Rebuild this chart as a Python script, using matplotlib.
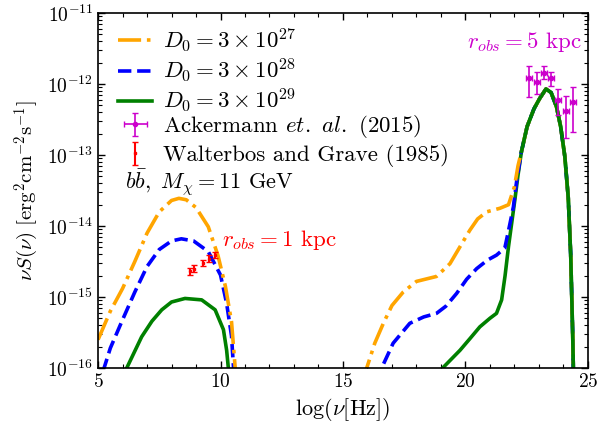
import numpy as np
import matplotlib
matplotlib.use("Agg")
import matplotlib.pyplot as plt
from matplotlib.ticker import MultipleLocator, FixedLocator, NullFormatter

plt.rcParams["font.family"] = "serif"
plt.rcParams["font.serif"] = ["cmr10", "DejaVu Serif"]
plt.rcParams["mathtext.fontset"] = "cm"
plt.rcParams["axes.formatter.use_mathtext"] = True
plt.rcParams["font.size"] = 14

# --- curves: log10(nu) vs log10(nu S(nu)) ---
x_or_lo = [5.0, 5.5, 6.0, 6.5, 7.0, 7.5, 8.0, 8.3, 8.6, 9.0, 9.5, 9.9, 10.2, 10.45, 10.6, 10.65]
y_or_lo = [-15.6, -15.2, -14.88, -14.5, -14.1, -13.8, -13.64, -13.61, -13.63, -13.74, -14.01,
           -14.42, -14.85, -15.35, -16.0, -16.4]
x_bl_lo = [5.2, 5.5, 6.0, 6.5, 7.0, 7.5, 8.0, 8.4, 8.9, 9.5, 10.0, 10.25, 10.45, 10.55]
y_bl_lo = [-16.05, -15.72, -15.32, -14.93, -14.57, -14.33, -14.21, -14.18, -14.21, -14.36,
           -14.69, -15.09, -15.55, -16.1]
x_gr_lo = [6.1, 6.17, 6.78, 7.2, 7.6, 8.0, 8.55, 9.23, 9.78, 10.12, 10.25, 10.32, 10.35]
y_gr_lo = [-16.1, -16.0, -15.56, -15.34, -15.18, -15.07, -15.02, -15.04, -15.18, -15.46,
           -15.75, -16.0, -16.2]

x_peak = [22.29, 22.52, 22.8, 23.04, 23.29, 23.5, 23.72, 23.89, 24.06, 24.2, 24.3, 24.38, 24.42]
y_peak = [-12.95, -12.60, -12.35, -12.2, -12.07, -12.12, -12.32, -12.60, -13.02, -13.6,
          -14.4, -15.5, -16.2]

x_or_hi = [15.9, 15.97, 16.3, 16.65, 17.0, 17.46, 18.0, 18.82, 19.37, 19.8, 20.18, 20.5,
           20.87, 21.41, 21.76, 22.0, 22.15] + x_peak
y_or_hi = [-16.2, -16.0, -15.65, -15.37, -15.12, -14.93, -14.78, -14.71, -14.53, -14.28,
           -14.06, -13.9, -13.80, -13.75, -13.70, -13.45, -13.15] + y_peak
x_bl_hi = [16.5, 16.58, 17.05, 17.73, 18.3, 18.82, 19.2, 19.64, 20.05, 20.46, 20.9, 21.27,
           21.61, 21.8, 21.96, 22.1] + x_peak
y_bl_hi = [-16.2, -16.0, -15.65, -15.37, -15.28, -15.23, -15.13, -14.95, -14.75, -14.60,
           -14.48, -14.41, -14.31, -14.0, -13.73, -13.35] + y_peak
x_gr_hi = [19.0, 19.07, 19.78, 20.2, 20.59, 21.0, 21.27, 21.48, 21.62, 21.76, 22.02,
           22.15] + x_peak
y_gr_hi = [-16.1, -16.0, -15.75, -15.58, -15.42, -15.3, -15.23, -15.04, -14.7, -14.29,
           -13.63, -13.28] + y_peak

# --- data points ---
ack_x = [22.59, 22.91, 23.22, 23.49, 23.79, 24.10, 24.40]
ack_y = [-11.91, -11.97, -11.84, -11.92, -12.23, -12.38, -12.26]
ack_top = [-11.746, -11.827, -11.746, -11.831, -12.075, -12.165, -12.046]
ack_bot = [-12.179, -12.145, -11.934, -12.028, -12.437, -12.761, -12.672]
ack_xerr = 0.12

wal_x = [8.76, 8.92, 9.27, 9.54, 9.78]
wal_y = [-14.64, -14.60, -14.52, -14.46, -14.41]
wal_err = 0.045

yticks = [1e-16, 1e-15, 1e-14, 1e-13, 1e-12, 1e-11]

fig = plt.figure(figsize=(5.98, 4.34), dpi=100)
ax = fig.add_axes([0.164, 0.152, 0.819, 0.818])

lw = 2.6
ax.plot(x_gr_lo, 10 ** np.array(y_gr_lo), color="green", ls="-", lw=lw)
ax.plot(x_gr_hi, 10 ** np.array(y_gr_hi), color="green", ls="-", lw=lw)
ax.plot(x_bl_lo, 10 ** np.array(y_bl_lo), color="blue", ls="--", lw=lw)
ax.plot(x_bl_hi, 10 ** np.array(y_bl_hi), color="blue", ls="--", lw=lw)
ax.plot(x_or_lo, 10 ** np.array(y_or_lo), color="orange", ls="-.", lw=lw)
ax.plot(x_or_hi, 10 ** np.array(y_or_hi), color="orange", ls="-.", lw=lw)
ax.plot(x_peak, 10 ** np.array(y_peak), color="green", ls="-", lw=lw)

# legend handles
h1, = ax.plot([], [], color="orange", ls="-.", lw=lw, label=r"$D_0 = 3\times10^{27}$")
h2, = ax.plot([], [], color="blue", ls="--", lw=lw, label=r"$D_0 = 3\times10^{28}$")
h3, = ax.plot([], [], color="green", ls="-", lw=lw, label=r"$D_0 = 3\times10^{29}$")

ay = 10 ** np.array(ack_y)
ayerr = [ay - 10 ** np.array(ack_bot), 10 ** np.array(ack_top) - ay]
h4 = ax.errorbar(ack_x, ay, yerr=ayerr, xerr=ack_xerr, fmt="o", ms=3, color="#cc00cc",
                 ecolor="#cc00cc", elinewidth=1.2, capsize=2,
                 label=r"Ackermann $et.\ al.$ (2015)")

wy = 10 ** np.array(wal_y)
wyerr = [wy - 10 ** (np.array(wal_y) - wal_err), 10 ** (np.array(wal_y) + wal_err) - wy]
h5 = ax.errorbar(wal_x, wy, yerr=wyerr, fmt="s", ms=2, color="red", ecolor="red",
                 elinewidth=1.5, capsize=2, label="Walterbos and Grave (1985)")

ax.text(24.75, 10 ** -11.41, r"$r_{obs} = 5$ kpc", color="#cc00cc", ha="right",
        va="center", fontsize=16.5)
ax.text(10.05, 10 ** -14.2, r"$r_{obs} = 1$ kpc", color="red", ha="left", va="center",
        fontsize=16.5)
ax.text(6.1, 10 ** -13.39, r"$b\bar{b},\ M_\chi = 11$ GeV", ha="left", va="center",
        fontsize=16)

ax.set_yscale("log")
ax.set_xlim(5, 25)
ax.set_ylim(1e-16, 1e-11)
ax.xaxis.set_major_locator(MultipleLocator(5))
ax.xaxis.set_minor_locator(MultipleLocator(1))
ax.set_yticks(yticks)
minor = [m * 10.0 ** e for e in range(-16, -11) for m in range(2, 10)]
ax.yaxis.set_minor_locator(FixedLocator(minor))
ax.yaxis.set_minor_formatter(NullFormatter())
ax.tick_params(which="both", direction="in", top=True, right=True, labelsize=14)
ax.tick_params(which="major", length=5, width=1)
ax.tick_params(which="minor", length=2.8, width=0.8)
for s in ax.spines.values():
    s.set_linewidth(1.2)

ax.set_xlabel(r"$\log(\nu[{\rm Hz}])$", fontsize=16)
ax.set_ylabel(r"$\nu S(\nu)\ [{\rm erg}^2{\rm cm}^{-2}{\rm s}^{-1}]$", fontsize=15)

leg_kw = dict(frameon=False, fontsize=16.5, handlelength=1.5, handletextpad=0.45,
              handleheight=0.6, borderaxespad=0.0, borderpad=0.35)
leg1 = ax.legend(handles=[h1, h2, h3], loc="upper left", bbox_to_anchor=(0.0245, 0.985),
                 labelspacing=0.1, **leg_kw)
ax.add_artist(leg1)
ax.legend(handles=[h4, h5], loc="upper left", bbox_to_anchor=(0.0245, 0.741),
          labelspacing=0.17, **leg_kw)

fig.savefig("out.png", dpi=100)
